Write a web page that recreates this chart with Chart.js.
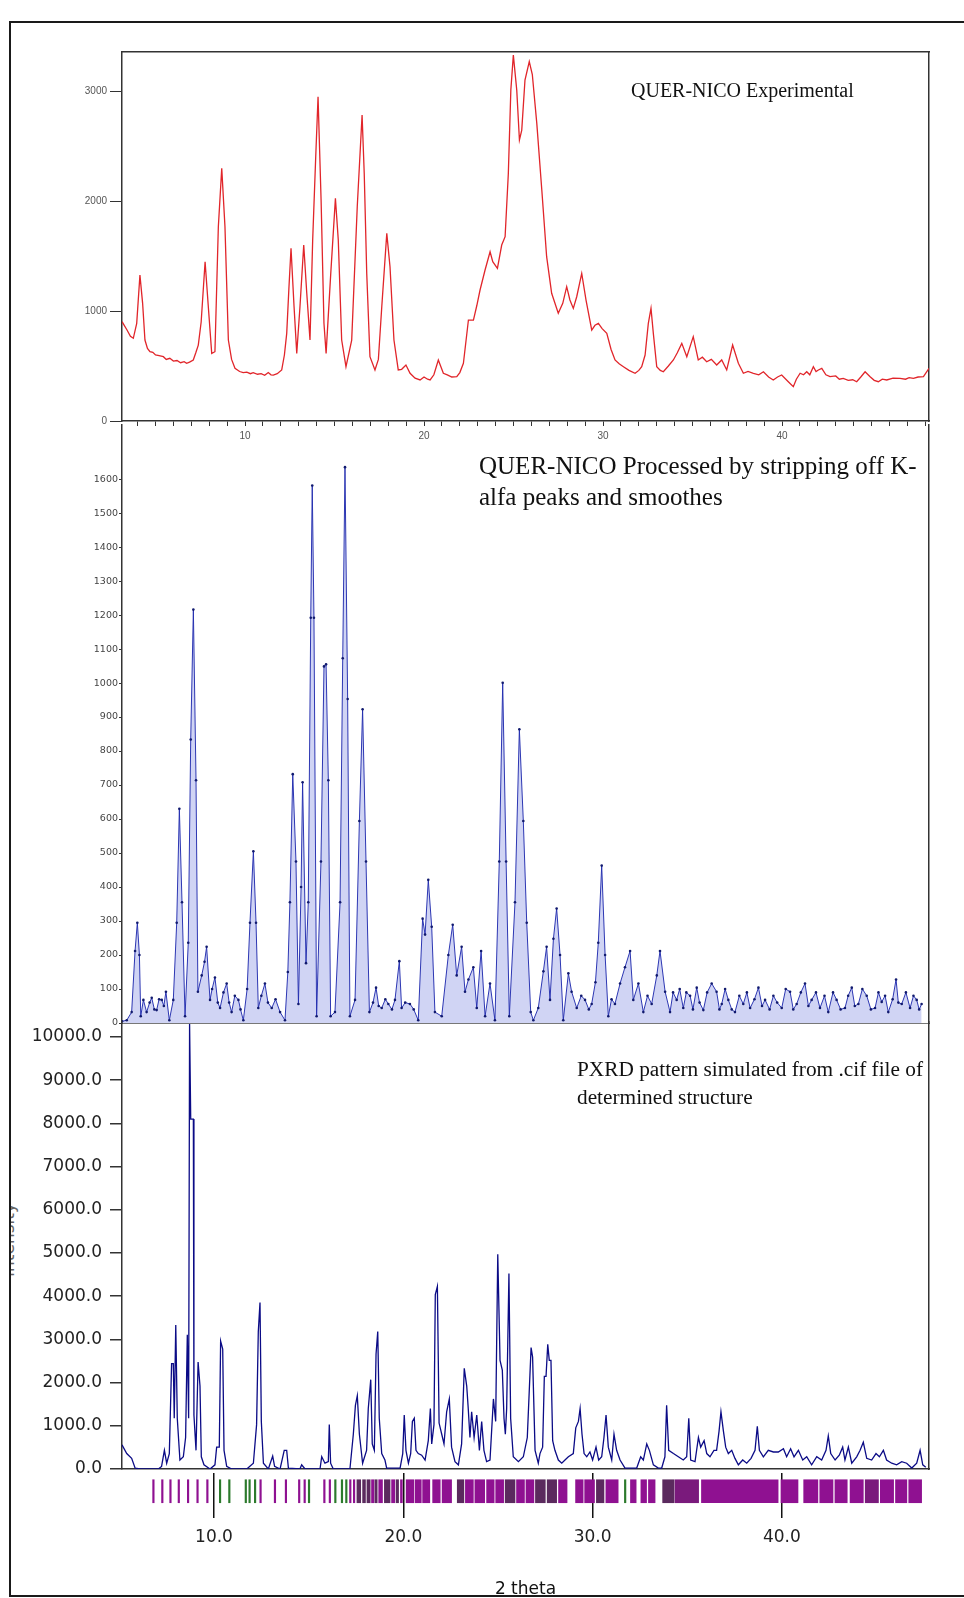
<!DOCTYPE html>
<html><head><meta charset="utf-8">
<script src="https://cdn.jsdelivr.net/npm/chart.js@4.4.1/dist/chart.umd.min.js"></script>
<style>
html,body{margin:0;padding:0;background:#fff;}
body{width:964px;height:1598px;position:relative;overflow:hidden;}
#frame{position:absolute;left:9px;top:21px;width:1000px;height:1576px;border:2px solid #1a1a1a;box-sizing:border-box;}
canvas{position:absolute;left:0;}
.t{position:absolute;font-family:"Liberation Serif","Times New Roman",serif;color:#111;white-space:nowrap;}
#yclip{position:absolute;left:11px;top:1150px;width:20px;height:180px;overflow:hidden;}
#ylab{position:absolute;left:-43px;top:80px;width:80px;text-align:center;transform:rotate(-90deg);font-family:"DejaVu Sans",sans-serif;font-size:17px;color:#666;}
</style></head><body>
<div id="frame"></div>
<div id="yclip"><div id="ylab">Intensity</div></div>
<canvas id="c1" width="964" height="460" style="top:0px"></canvas>
<canvas id="c2" width="964" height="640" style="top:400px"></canvas>
<canvas id="c3" width="964" height="500" style="top:1000px"></canvas>
<canvas id="c4" width="964" height="140" style="top:1460px"></canvas>
<div class="t" style="left:631px;top:78px;font-size:20px;line-height:24px;">QUER-NICO Experimental</div>
<div class="t" style="left:479px;top:451px;font-size:25px;line-height:30.6px;">QUER-NICO Processed by stripping off K-<br>alfa peaks and smoothes</div>
<div class="t" style="left:577px;top:1056px;font-size:21.3px;line-height:27.5px;">PXRD pattern simulated from .cif file of<br>determined structure</div>
<script>
// ---------- DATA ----------
// Top panel: QUER-NICO experimental
const topTheta = [3.13,3.40,3.60,3.76,3.95,4.13,4.28,4.41,4.55,4.69,4.85,5.0,5.2,5.44,5.6,5.8,6.0,6.2,6.4,6.6,6.74,6.9,7.11,7.25,7.39,7.55,7.77,7.95,8.14,8.32,8.51,8.70,8.88,9.07,9.25,9.44,9.7,9.9,10.1,10.3,10.46,10.7,10.9,11.1,11.3,11.45,11.58,11.8,12.05,12.2,12.33,12.45,12.57,12.74,12.89,13.07,13.28,13.45,13.63,13.78,13.95,14.08,14.25,14.41,14.53,14.79,15.05,15.21,15.40,15.64,15.96,16.27,16.54,16.66,16.80,16.98,17.26,17.45,17.64,17.92,18.10,18.32,18.56,18.75,18.99,19.22,19.5,19.78,20.0,20.2,20.34,20.55,20.80,21.08,21.3,21.55,21.83,22.0,22.20,22.48,22.76,22.95,23.13,23.41,23.69,23.84,24.10,24.34,24.53,24.71,24.85,24.99,25.18,25.33,25.46,25.64,25.88,26.05,26.30,26.58,26.85,27.13,27.50,27.75,27.97,28.15,28.34,28.53,28.81,29.05,29.37,29.55,29.74,29.95,30.21,30.45,30.67,30.9,31.14,31.45,31.79,32.0,32.16,32.35,32.53,32.68,32.81,33.0,33.2,33.37,33.65,33.93,34.15,34.40,34.68,35.04,35.32,35.55,35.79,36.05,36.35,36.63,36.91,37.24,37.56,37.84,38.1,38.40,38.7,38.96,39.25,39.51,39.75,39.98,40.35,40.63,40.8,41.01,41.2,41.38,41.55,41.75,41.9,42.03,42.22,42.45,42.68,43.0,43.2,43.42,43.7,43.95,44.17,44.4,44.64,44.92,45.15,45.38,45.6,45.85,46.2,46.59,46.9,47.1,47.34,47.6,47.90,48.21];
const topIntensity = [903,830,770,752,888,1327,1070,736,660,630,625,600,595,585,560,570,545,550,530,540,525,535,555,620,690,900,1448,1039,615,630,1766,2297,1766,736,560,479,450,440,445,430,439,425,430,415,440,420,418,430,464,600,797,1200,1570,1039,615,1039,1600,1161,736,1645,2403,2948,2009,888,615,1342,2024,1645,736,494,736,1948,2782,2251,1342,585,464,560,1039,1706,1403,736,464,470,509,434,390,373,400,380,373,420,555,434,420,400,403,440,525,918,918,1050,1191,1373,1539,1448,1388,1600,1676,2251,3009,3327,3009,2555,2645,3100,3267,3150,2706,2100,1494,1161,979,1070,1221,1100,1024,1130,1342,1100,827,870,888,840,797,650,555,520,494,460,434,460,494,600,888,1024,797,494,460,448,500,555,620,706,585,767,555,580,539,560,509,555,464,691,525,434,450,434,420,448,400,373,400,418,357,312,380,434,420,448,420,494,450,464,479,420,403,410,380,388,370,375,357,400,448,403,370,357,380,373,390,388,380,395,388,400,403,479];
const topXTicks = [4,5,6,7,8,9,10,11,12,13,14,15,16,17,18,19,20,21,22,23,24,25,26,27,28,29,30,31,32,33,34,35,36,37,38,39,40,41,42,43,44,45,46,47,48];
const topXLabels = [10,20,30,40];
const topYTicks = [0,1000,2000,3000];

// Middle panel: processed (K-alpha2 stripped, smoothed)
const midTheta = [5.14,5.39,5.65,5.83,5.95,6.06,6.13,6.27,6.44,6.6,6.71,6.85,6.97,7.1,7.24,7.35,7.46,7.64,7.85,8.03,8.17,8.31,8.47,8.64,8.77,8.91,9.05,9.15,9.35,9.5,9.61,9.79,9.9,10.05,10.2,10.32,10.5,10.67,10.8,10.93,11.1,11.29,11.4,11.55,11.75,11.90,12.08,12.22,12.34,12.5,12.69,12.85,13.05,13.25,13.49,13.75,13.9,14.01,14.16,14.33,14.46,14.6,14.68,14.86,14.98,15.11,15.19,15.28,15.42,15.65,15.81,15.92,16.04,16.16,16.39,16.66,16.80,16.92,17.06,17.18,17.45,17.68,17.85,18.03,18.21,18.4,18.56,18.7,18.86,19.05,19.21,19.4,19.56,19.79,19.91,20.1,20.35,20.55,20.79,21.02,21.15,21.32,21.50,21.67,22.03,22.38,22.61,22.82,23.08,23.26,23.44,23.70,23.88,24.11,24.32,24.58,24.84,25.07,25.25,25.43,25.60,25.90,26.13,26.34,26.52,26.73,26.87,27.13,27.40,27.57,27.75,27.93,28.10,28.28,28.45,28.72,28.89,29.16,29.4,29.60,29.8,29.95,30.15,30.30,30.48,30.66,30.83,31.0,31.18,31.45,31.71,31.98,32.15,32.42,32.68,32.9,33.12,33.39,33.56,33.83,34.09,34.25,34.44,34.6,34.79,34.95,35.15,35.3,35.50,35.65,35.85,36.05,36.29,36.55,36.7,36.82,37.0,37.17,37.35,37.52,37.75,37.96,38.15,38.32,38.55,38.76,38.95,39.11,39.35,39.55,39.75,39.99,40.2,40.43,40.6,40.78,41.0,41.22,41.4,41.57,41.8,42.01,42.25,42.45,42.7,42.89,43.1,43.33,43.5,43.69,43.85,44.04,44.25,44.48,44.7,44.92,45.1,45.27,45.45,45.62,45.85,46.03,46.15,46.33,46.55,46.77,46.95,47.12,47.25,47.38];
const midIntensity = [5,8,32,212,295,200,20,68,32,60,74,40,38,70,68,50,92,8,68,295,630,355,20,236,834,1216,714,92,140,180,224,68,100,134,60,44,90,116,60,32,80,68,40,8,100,295,505,295,44,80,116,60,44,70,32,8,150,355,732,475,56,400,708,176,355,1192,1581,1192,20,475,1049,1055,714,20,32,355,1073,1635,953,20,68,594,923,475,32,60,104,50,44,70,56,40,68,182,44,60,56,40,8,307,260,421,283,32,20,200,289,140,224,92,128,164,44,212,20,116,8,475,1001,475,20,355,864,594,295,32,8,44,152,224,68,248,337,200,8,146,92,44,80,68,40,56,120,236,463,200,20,70,56,116,164,212,68,116,32,80,56,140,212,92,32,90,68,100,44,90,80,40,104,60,38,90,116,92,40,56,100,68,40,32,80,56,90,44,70,104,50,68,40,80,60,44,100,92,40,56,90,116,50,68,90,44,80,32,90,68,40,44,80,104,50,56,100,80,40,44,90,62,80,32,70,128,60,56,90,44,80,68,40,56];
const midYTicks = [0,100,200,300,400,500,600,700,800,900,1000,1100,1200,1300,1400,1500,1600];

// Bottom panel: simulated from .cif
const simTheta = [5.14,5.39,5.65,5.83,6.09,7.06,7.23,7.38,7.50,7.64,7.76,7.85,7.90,7.98,8.06,8.20,8.38,8.50,8.59,8.66,8.71,8.77,8.91,8.94,9.05,9.16,9.26,9.33,9.47,9.79,10.05,10.14,10.28,10.35,10.46,10.53,10.67,10.93,11.73,12.08,12.25,12.34,12.43,12.50,12.61,12.87,13.10,13.20,13.49,13.71,13.84,13.93,14.54,14.63,14.81,15.60,15.69,15.86,16.04,16.09,16.16,16.30,17.18,17.36,17.47,17.57,17.68,17.85,18.06,18.15,18.28,18.36,18.47,18.56,18.65,18.73,18.86,19.03,19.12,19.83,19.97,20.05,20.14,20.27,20.39,20.48,20.58,20.67,20.79,20.97,21.15,21.32,21.43,21.50,21.62,21.69,21.80,21.89,22.03,22.15,22.29,22.43,22.55,22.73,22.91,23.08,23.22,23.35,23.43,23.52,23.61,23.74,23.88,24.02,24.14,24.26,24.40,24.58,24.76,24.88,24.99,25.11,25.23,25.32,25.39,25.46,25.58,25.67,25.81,26.08,26.34,26.55,26.75,26.83,26.96,27.13,27.22,27.36,27.45,27.54,27.63,27.71,27.80,27.89,28.01,28.19,28.37,28.54,28.72,28.98,29.11,29.25,29.34,29.44,29.55,29.69,29.86,30.00,30.18,30.32,30.48,30.60,30.71,30.83,31.01,31.13,31.27,31.45,31.71,32.33,32.54,32.68,32.86,33.00,33.21,33.47,33.65,33.82,33.91,34.02,34.27,34.53,34.79,34.97,35.08,35.18,35.41,35.59,35.71,35.89,36.03,36.20,36.41,36.55,36.68,36.78,36.91,37.03,37.17,37.35,37.52,37.70,37.93,38.14,38.37,38.58,38.70,38.81,39.02,39.28,39.55,39.81,40.08,40.25,40.46,40.64,40.87,41.10,41.31,41.57,41.84,42.10,42.33,42.45,42.58,42.81,43.03,43.21,43.33,43.51,43.69,43.95,44.13,44.30,44.48,44.74,44.97,45.15,45.36,45.53,45.80,46.06,46.33,46.59,46.86,47.12,47.30,47.44,47.60];
const simIntensity = [560,357,246,22,0,0,60,432,134,357,2440,2440,1176,3333,1176,208,283,729,3110,1176,10300,8100,8100,1250,432,2478,1920,283,97,0,97,506,506,2961,2775,432,60,0,0,134,1027,3184,3854,1101,134,0,298,60,0,432,432,22,0,97,0,0,283,134,171,1027,134,0,0,804,1473,1696,804,134,432,1399,2068,580,432,2664,3184,1176,357,208,22,22,357,1250,432,134,357,1101,1176,432,357,320,208,655,1399,580,1027,4040,4226,1064,804,580,1324,1622,506,171,97,580,2329,1920,1399,729,1324,729,1250,432,1101,432,171,208,1622,1101,4970,2515,2291,1176,804,1399,4524,1176,283,171,283,729,2812,2589,432,134,357,506,2143,2143,2887,2515,2515,655,432,208,134,208,283,357,952,1101,1399,804,357,283,394,208,506,208,283,729,1250,506,208,804,432,208,22,22,283,208,580,432,97,22,22,283,1473,432,357,283,208,283,1176,208,171,729,506,655,357,283,432,432,878,1324,878,506,357,432,246,97,208,134,246,432,990,432,283,432,394,394,469,283,469,283,432,208,283,97,283,208,432,766,357,208,320,506,208,506,134,283,432,618,246,208,357,283,432,208,134,97,171,134,22,134,432,97,40];
const simYTicks = [0,1000,2000,3000,4000,5000,6000,7000,8000,9000,10000];
const simXTicks = [10,20,30,40];

// Reflection markers (2-theta ranges) and phase colour code
const reflStart = [6.76,7.23,7.66,8.10,8.59,9.09,9.61,10.28,10.77,11.64,11.84,12.13,12.42,13.18,13.76,14.46,14.75,14.98,15.79,16.08,16.37,16.72,16.95,17.16,17.36,17.55,17.85,18.08,18.32,18.5,18.7,19.0,19.38,19.62,19.85,20.15,20.62,21.02,21.55,22.05,22.85,23.28,23.78,24.4,24.88,25.38,25.98,26.48,26.98,27.6,28.2,29.1,29.58,30.2,30.7,31.68,32.0,32.55,32.95,33.7,34.35,35.75,39.95,41.15,42.0,42.8,43.6,44.4,45.2,46.0,46.7];
const reflEnd   = [6.84,7.31,7.74,8.18,8.67,9.17,9.69,10.36,10.85,11.72,11.92,12.21,12.50,13.26,13.84,14.54,14.83,15.06,15.87,16.16,16.45,16.80,17.03,17.24,17.44,17.75,18.0,18.25,18.45,18.62,18.9,19.3,19.55,19.75,19.95,20.55,20.95,21.4,21.95,22.55,23.2,23.7,24.3,24.8,25.3,25.9,26.4,26.9,27.5,28.1,28.65,29.5,30.1,30.6,31.35,31.76,32.3,32.85,33.3,34.3,35.6,39.8,40.85,41.9,42.7,43.45,44.3,45.1,45.9,46.6,47.38];
const reflPhase = ['P','P','P','P','P','P','P','G','G','G','G','G','P','P','P','P','P','G','P','P','G','G','G','P','P','D','D','D','P','D','P','D','P','D','P','P','P','P','P','P','D','P','P','P','P','D','P','P','D','D','P','P','P','D','P','G','P','P','P','D','M','P','P','P','P','P','P','M','P','P','P'];
const phaseColor = {P:'#8f1191', D:'#5b2a5e', G:'#2c7a2c', M:'#7a1a7c'};

// ---------- CHARTS ----------
const pts = (xs, ys) => xs.map((x, i) => ({x: x, y: ys[i]}));
const common = {responsive:false, animation:false, events:[], plugins:{legend:{display:false}, tooltip:{enabled:false}}};
const setTicks = vals => (s => { s.ticks = vals.map(v => ({value: v})); });
const plain = v => String(v);
const edgeAxis = (pos, min, max) => ({type:'linear', position:pos, min:min, max:max, display:true,
  afterFit: s => { if (pos==='top'||pos==='bottom') s.height = 0; else s.width = 0; },
  grid:{display:false}, ticks:{display:false}, border:{display:true, color:'#333', width:1.5}});

// Top chart
new Chart(document.getElementById('c1'), {
  type:'line',
  data:{datasets:[{data:pts(topTheta, topIntensity), borderColor:'#e1252a', borderWidth:1.3, pointRadius:0, tension:0}]},
  options:Object.assign({}, common, {
    layout:{padding:{top:52, right:35, left:0, bottom:0}},
    scales:{
      x:{type:'linear', position:'bottom', min:3.128, max:48.21,
         afterFit:s => { s.height = 39; }, afterBuildTicks:setTicks(topXTicks),
         grid:{display:true, drawOnChartArea:false, tickLength:5, color:'#333', lineWidth:1},
         border:{display:true, color:'#333', width:1.5},
         ticks:{autoSkip:false, maxRotation:0, padding:4, color:'#555', font:{family:'Liberation Sans', size:10},
                callback:v => topXLabels.includes(v) ? String(v) : ''}},
      xTop:edgeAxis('top', 3.128, 48.21),
      y:{type:'linear', position:'left', min:0, max:3355,
         afterFit:s => { s.width = 122; }, afterBuildTicks:setTicks(topYTicks),
         grid:{display:true, drawOnChartArea:false, tickLength:12, color:'#333'},
         border:{display:true, color:'#333', width:1.5},
         ticks:{padding:3, color:'#555', font:{family:'Liberation Sans', size:10}, callback:plain}},
      yRight:edgeAxis('right', 0, 1)
    }
  })
});

// Middle chart
new Chart(document.getElementById('c2'), {
  type:'line',
  data:{datasets:[{data:pts(midTheta, midIntensity), borderColor:'rgba(35,45,175,0.95)', borderWidth:1,
    pointRadius:1.3, pointBorderWidth:0, pointBackgroundColor:'#111a6e', tension:0,
    fill:'origin', backgroundColor:'rgba(85,100,215,0.28)'}]},
  options:Object.assign({}, common, {
    layout:{padding:{top:25, right:35, left:0, bottom:0}},
    scales:{
      x:{type:'linear', position:'bottom', min:5.14, max:47.77,
         afterFit:s => { s.height = 17; },
         grid:{display:false}, ticks:{display:false},
         border:{display:true, color:'#777', width:1}},
      y:{type:'linear', position:'left', min:0, max:1759,
         afterFit:s => { s.width = 122; }, afterBuildTicks:setTicks(midYTicks),
         grid:{display:true, drawOnChartArea:false, tickLength:3, color:'#333'},
         border:{display:true, color:'#333', width:1.5},
         ticks:{padding:1, color:'#444', font:{family:'DejaVu Sans', size:9.5}, callback:plain}},
      yRight:edgeAxis('right', 0, 1)
    }
  })
});

// Bottom chart
new Chart(document.getElementById('c3'), {
  type:'line',
  data:{datasets:[{data:pts(simTheta, simIntensity), borderColor:'#0b0b86', borderWidth:1.3, pointRadius:0, tension:0}]},
  options:Object.assign({}, common, {
    layout:{padding:{top:22, right:35, left:0, bottom:0}},
    scales:{
      x:{type:'linear', position:'bottom', min:5.14, max:47.77,
         afterFit:s => { s.height = 31; },
         grid:{display:false}, ticks:{display:false},
         border:{display:true, color:'#333', width:1.5}},
      y:{type:'linear', position:'left', min:0, max:10347,
         afterFit:s => { s.width = 122; }, afterBuildTicks:setTicks(simYTicks),
         grid:{display:true, drawOnChartArea:false, tickLength:12, color:'#333', lineWidth:1.5},
         border:{display:true, color:'#333', width:1.5},
         ticks:{padding:8, color:'#222', font:{family:'DejaVu Sans', size:17}, callback:v => v.toFixed(1)}},
      yRight:edgeAxis('right', 0, 1)
    }
  })
});

// Reflection marker strip with the 2-theta axis
new Chart(document.getElementById('c4'), {
  type:'bar',
  data:{datasets:[{data:reflStart.map((s, i) => ({x:[s, reflEnd[i]], y:0.36})),
    backgroundColor:reflPhase.map(p => phaseColor[p]), borderWidth:0, barThickness:23}]},
  options:Object.assign({}, common, {
    indexAxis:'y',
    layout:{padding:{top:13, right:35, left:122, bottom:0}},
    scales:{
      x:{type:'linear', position:'bottom', min:5.14, max:47.77, z:1,
         afterFit:s => { s.height = 95; }, afterBuildTicks:setTicks(simXTicks),
         grid:{display:true, drawOnChartArea:true, tickLength:13, color:'#111', lineWidth:1.5},
         border:{display:false},
         ticks:{padding:9, color:'#222', font:{family:'DejaVu Sans', size:17}, callback:v => v.toFixed(1)},
         title:{display:true, text:'2 theta', color:'#111', font:{family:'DejaVu Sans', size:17}, padding:{top:0, bottom:0}}},
      y:{type:'linear', min:0, max:1, display:false}
    }
  })
});
</script>
</body></html>
